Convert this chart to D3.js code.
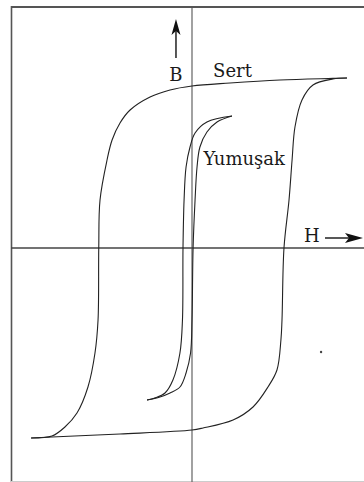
<!DOCTYPE html>
<html>
<head>
<meta charset="utf-8">
<script src="https://cdn.jsdelivr.net/npm/d3@7"></script>
<style>
  html, body { margin: 0; padding: 0; background: #fff; }
  svg { display: block; }
  .lbl { font-family: "DejaVu Serif", serif; font-size: 18px; fill: #1a1a1a; }
</style>
</head>
<body>
<svg id="chart"></svg>
<script>
// canvas
const W = 364, H = 482;

// hard material loop (Sert), points as [H, B]
const sertDown = [
  [8.61, 8.5], [7.83, 8.48], [4.89, 8.4], [2.11, 8.25], [0, 8.1], [-1.22, 7.9],
  [-2.33, 7.55], [-3.44, 6.9], [-4.0, 6.25], [-4.44, 5.4], [-4.72, 4.4],
  [-5.11, 2.4], [-5.18, 0], [-5.22, -3.6], [-5.39, -5.25], [-5.78, -6.95],
  [-6.39, -8.25], [-7.06, -8.95], [-7.78, -9.4], [-8.94, -9.5]
];
const sertUp = [
  [-8.94, -9.5], [-7.78, -9.45], [-4.0, -9.3], [0, -9.1], [0.61, -9.0],
  [2.28, -8.6], [3.39, -7.95], [4.22, -6.95], [4.72, -6.1], [4.94, -4.6],
  [5.0, -3.6], [5.11, 0], [5.39, 2.4], [5.56, 4.4], [5.72, 6.05],
  [6.11, 7.4], [6.72, 8.15], [7.83, 8.45], [8.61, 8.5]
];

// soft material loop (Yumuşak)
const yumDown = [
  [2.22, 6.6], [0.83, 6.3], [0.17, 5.75], [-0.11, 5.05], [-0.33, 4.05],
  [-0.44, 2.4], [-0.5, 0], [-0.53, -3.6], [-0.67, -5.25], [-1.06, -6.6],
  [-1.5, -7.25], [-2.06, -7.5], [-2.5, -7.6]
];
const yumUp = [
  [-2.5, -7.6], [-1.78, -7.45], [-1.22, -7.25], [-0.67, -6.95], [-0.33, -6.25],
  [-0.08, -5.25], [0, -3.6], [0.06, 0], [0.17, 2.4], [0.28, 4.05],
  [0.44, 5.05], [0.83, 5.8], [1.39, 6.3], [2.22, 6.6]
];

// stray dot in the picture
const dots = [[7.17, -5.2]];

// labels: [text, H, B, anchor]
const labels = [
  ["B", -0.89, 8.35, "middle"],
  ["Sert", 1.17, 8.55, "start"],
  ["Yumuşak", 0.64, 4.15, "start"],
  ["H", 6.22, 0.3, "start"]
];

const svg = d3.select("#chart").attr("width", W).attr("height", H);

const x = d3.scaleLinear().domain([-10, 10]).range([12, 372]);
const y = d3.scaleLinear().domain([-10, 10]).range([448, 48]);

// frame
svg.append("line").attr("x1", 11).attr("x2", W).attr("y1", 7).attr("y2", 7)
  .attr("stroke", "#555").attr("stroke-width", 2);
svg.append("line").attr("x1", 11.5).attr("x2", 11.5).attr("y1", 6).attr("y2", H)
  .attr("stroke", "#555").attr("stroke-width", 1.6);
svg.append("line").attr("x1", 11).attr("x2", W).attr("y1", 481.5).attr("y2", 481.5)
  .attr("stroke", "#ccc").attr("stroke-width", 1);

// axes through the origin
svg.append("line").attr("x1", x(0)).attr("x2", x(0)).attr("y1", 7).attr("y2", H)
  .attr("stroke", "#555").attr("stroke-width", 1.1);
svg.append("line").attr("x1", 11).attr("x2", W).attr("y1", y(0)).attr("y2", y(0))
  .attr("stroke", "#444").attr("stroke-width", 1.3);

// curves
const line = d3.line()
  .x(d => x(d[0]))
  .y(d => y(d[1]))
  .curve(d3.curveCatmullRom.alpha(0.5));

[sertDown, sertUp, yumDown, yumUp].forEach(pts => {
  svg.append("path")
    .attr("d", line(pts))
    .attr("fill", "none")
    .attr("stroke", "#222")
    .attr("stroke-width", 1.1);
});

svg.selectAll(".dot").data(dots).enter().append("circle")
  .attr("class", "dot")
  .attr("cx", d => x(d[0])).attr("cy", d => y(d[1]))
  .attr("r", 1.2).attr("fill", "#444");

// arrows
const bx = x(-0.89);
svg.append("line").attr("x1", bx).attr("x2", bx).attr("y1", 58).attr("y2", 28)
  .attr("stroke", "#111").attr("stroke-width", 1.4);
svg.append("path")
  .attr("d", `M${bx},19 L${bx + 4.5},35 L${bx},31 L${bx - 4.5},35 Z`)
  .attr("fill", "#111");

const hy = 238;
svg.append("line").attr("x1", 325).attr("x2", 352).attr("y1", hy).attr("y2", hy)
  .attr("stroke", "#111").attr("stroke-width", 1.4);
svg.append("path")
  .attr("d", `M363,${hy} L345,${hy - 5} L349,${hy} L345,${hy + 5} Z`)
  .attr("fill", "#111");

// text
svg.selectAll(".lbl").data(labels).enter().append("text")
  .attr("class", "lbl")
  .attr("x", d => x(d[1]))
  .attr("y", d => y(d[2]))
  .attr("text-anchor", d => d[3])
  .text(d => d[0]);
</script>
</body>
</html>
